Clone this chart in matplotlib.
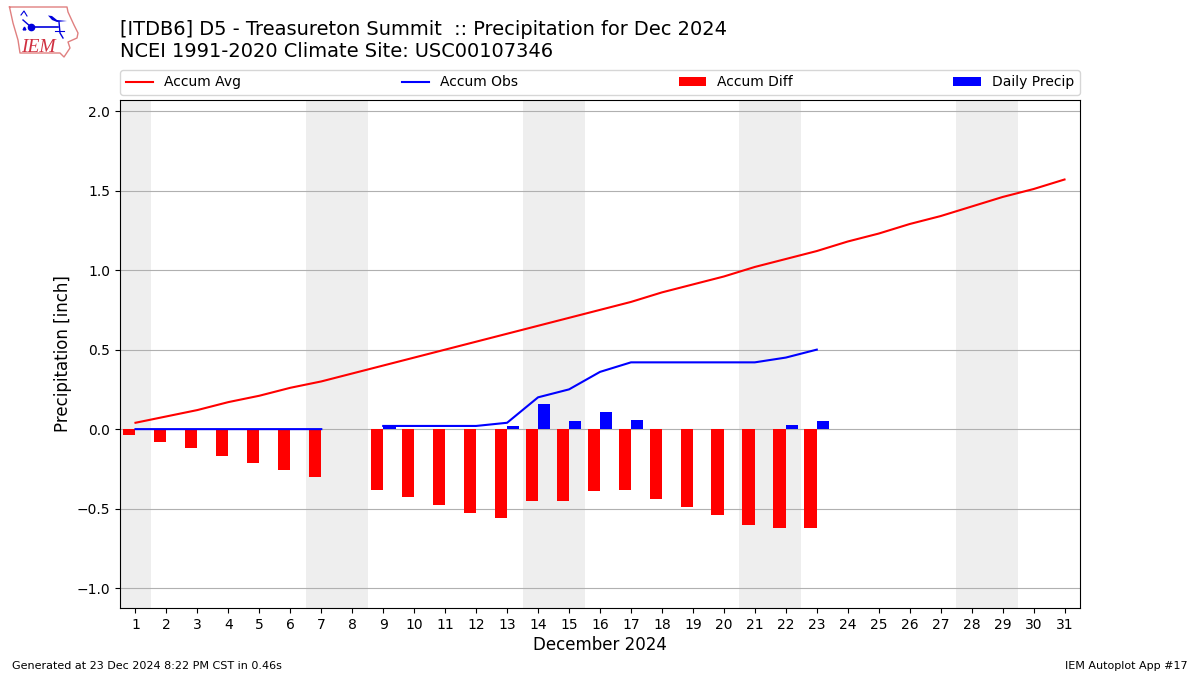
import numpy as np
import matplotlib
matplotlib.use('Agg')
import matplotlib.pyplot as plt

days = list(range(1, 32))
accum_avg = [0.04, 0.08, 0.12, 0.17, 0.21, 0.26, 0.30, 0.35, 0.40, 0.45, 0.50, 0.55, 0.60, 0.65, 0.70, 0.75,
             0.80, 0.86, 0.91, 0.96, 1.02, 1.07, 1.12, 1.18, 1.23, 1.29, 1.34, 1.40, 1.46, 1.51, 1.57]
obs_days = list(range(1, 24))
accum_obs = [0, 0, 0, 0, 0, 0, 0, np.nan, 0.02, 0.02, 0.02, 0.02, 0.04, 0.20, 0.25, 0.36, 0.42, 0.42, 0.42,
             0.42, 0.42, 0.45, 0.50]
accum_diff = [-0.04, -0.08, -0.12, -0.17, -0.21, -0.26, -0.30, np.nan, -0.38, -0.43, -0.48, -0.53, -0.56,
              -0.45, -0.45, -0.39, -0.38, -0.44, -0.49, -0.54, -0.60, -0.62, -0.62]
daily_precip = [0, 0, 0, 0, 0, 0, 0, np.nan, 0.02, 0, 0, 0, 0.02, 0.16, 0.05, 0.11, 0.06, 0, 0, 0, 0, 0.025, 0.05]
weekends = [(0.5, 1.5), (6.5, 8.5), (13.5, 15.5), (20.5, 22.5), (27.5, 29.5)]

# logo outline and symbol, pixels of the picture
iowa_x = [9.5, 67, 68, 74, 78, 77, 68, 70, 64, 60, 20, 18, 13, 9.5]
iowa_y = [7, 7, 12, 25, 33, 38, 42, 48, 57, 53, 53, 40, 23, 7]
wing_x = [48, 52, 57, 67, 57, 52, 48]
wing_y = [15.5, 16, 20, 21, 22, 20, 15.5]

fig = plt.figure(figsize=(12, 6.75), dpi=100)
ax = fig.add_axes([120 / 1200, 1 - 608 / 675, 960 / 1200, 508 / 675])

for start, end in weekends:
    ax.axvspan(start, end, color='#eeeeee', lw=0, zorder=0)

ax.plot(days, accum_avg, color='r', label='Accum Avg', zorder=3)
ax.plot(obs_days, accum_obs, color='b', label='Accum Obs', zorder=3)
ax.bar(np.array(obs_days) - 0.4, accum_diff, width=0.4, align='edge', color='r', label='Accum Diff', zorder=2)
ax.bar(obs_days, daily_precip, width=0.4, align='edge', color='b', label='Daily Precip', zorder=2)

ax.set_xlim(0.5, 31.5)
ax.set_ylim(-1.125, 2.07)
ax.set_xticks(days)
ax.set_yticks([-1.0, -0.5, 0.0, 0.5, 1.0, 1.5, 2.0])
ax.grid(axis='y', color='#b0b0b0', zorder=1)
ax.set_axisbelow(True)
ax.set_xlabel('December 2024', fontsize=12, labelpad=3.3)
ax.set_ylabel('Precipitation [inch]', fontsize=12, labelpad=3.3)
ax.legend(loc='lower left', bbox_to_anchor=(0, 1.01, 1, 0.1), ncol=4, mode='expand', borderaxespad=0, fontsize=10)

fig.text(120 / 1200, 1 - 61 / 675, '[ITDB6] D5 - Treasureton Summit  :: Precipitation for Dec 2024\n'
         'NCEI 1991-2020 Climate Site: USC00107346', fontsize=13.97, va='bottom', ha='left')
fig.text(12 / 1200, 1 - 671 / 675, 'Generated at 23 Dec 2024 8:22 PM CST in 0.46s', fontsize=8, va='bottom')
fig.text(1188 / 1200, 1 - 671 / 675, 'IEM Autoplot App #17', fontsize=8, va='bottom', ha='right')

# logo
logo = fig.add_axes([0, 1 - 65 / 675, 90 / 1200, 65 / 675])
logo.set_xlim(0, 90)
logo.set_ylim(65, 0)
logo.axis('off')
logo.plot(iowa_x, iowa_y, color='#e08080', lw=1)
logo.plot([31, 58], [27, 27], color='#0000dd', lw=1.2)
logo.plot([31, 23], [27, 20], color='#0000dd', lw=1)
logo.plot([21, 24, 27], [15, 11, 16], color='#0000dd', lw=0.8)
logo.fill(wing_x, wing_y, color='#0000dd', lw=0)
logo.plot([59, 60, 63], [22, 33, 38], color='#0000dd', lw=1)
logo.plot([55, 64], [31, 31], color='#0000dd', lw=0.8)
logo.plot([31], [27], 'o', color='#0000dd', ms=4.5)
logo.plot([24], [28], '^', color='#0000dd', ms=2)
logo.text(21, 52, 'IEM', color='#d03040', fontsize=14, family='Liberation Serif', style='italic', va='baseline')

plt.savefig('out.png', dpi=100)
